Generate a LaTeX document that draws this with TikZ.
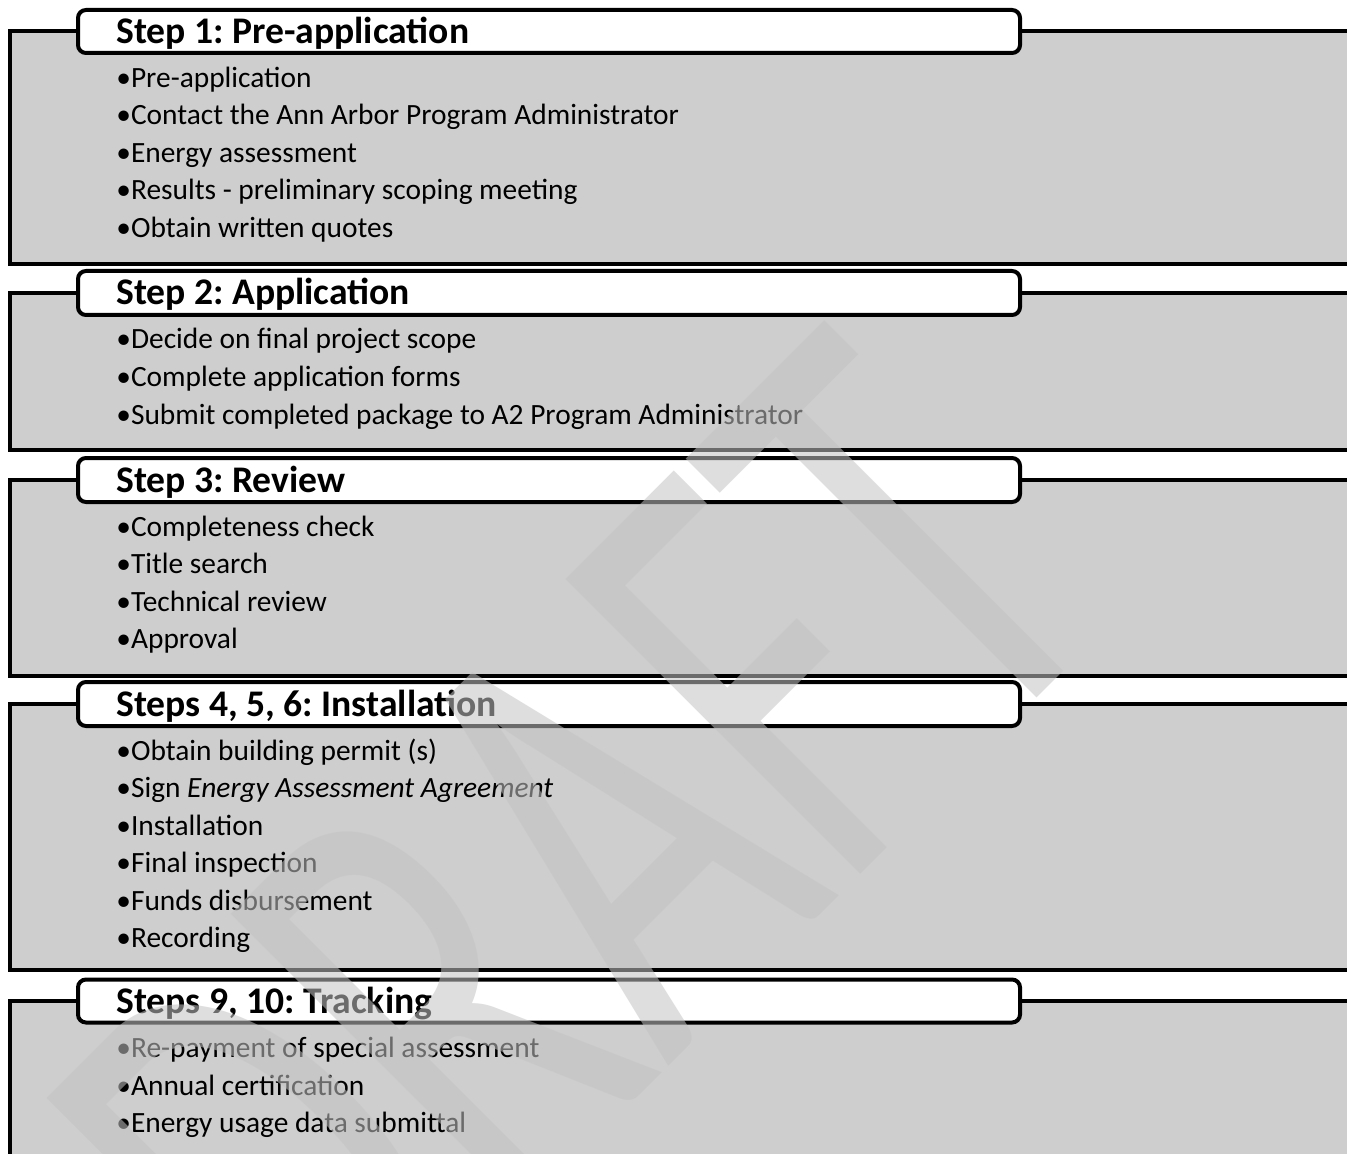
\documentclass[tikz,border=0pt]{standalone}
\usepackage{fontspec}
\setmainfont{Carlito}
\usetikzlibrary{positioning}
\definecolor{panelgray}{RGB}{206,206,206}
\definecolor{markgray}{RGB}{195,195,195}
\tikzset{
    panel/.style={draw=black, line width=2pt, fill=panelgray},
    titlebox/.style={draw=black, line width=2pt, fill=white, rounded corners=4pt},
    title text/.style={font=\bfseries\fontsize{18.8}{22}\selectfont, anchor=base west, inner sep=0pt},
    item text/.style={font=\fontsize{14.7}{17}\selectfont, anchor=base west, inner sep=0pt},
    watermark/.style={font=\fontsize{325}{325}\selectfont, text=markgray, opacity=0.55,
        anchor=base east, inner sep=0pt, rotate=45, xscale=0.65},
}
\frenchspacing

\begin{document}
\begin{tikzpicture}[x=0.5pt,y=-0.5pt]
    \useasboundingbox (0,0) rectangle (1347,1154);
    \clip (0,0) rectangle (1347,1154);

    % step 1
    \begin{scope}[shift={(0,31.5)}]
        \draw[panel] (10,0) rectangle (1370,232.5);
        \draw[titlebox] (78,-21.5) rectangle (1020,21.5);
        \node[title text] (step1) at (116,12) {Step 1: Pre-application};
        \foreach \txt [count=\i] in {Pre-application, Contact the Ann Arbor Program Administrator,
            Energy assessment, Results - preliminary scoping meeting, Obtain written quotes}
            \node[item text] (step1-\i) at (116,18.5+37.5*\i) {•\txt};
    \end{scope}

    % step 2
    \begin{scope}[shift={(0,293)}]
        \draw[panel] (10,0) rectangle (1370,157);
        \draw[titlebox] (78,-22) rectangle (1020,22);
        \node[title text] (step2) at (116,12) {Step 2: Application};
        \foreach \txt [count=\i] in {Decide on final project scope, Complete application forms,
            Submit completed package to A2 Program Administrator}
            \node[item text] (step2-\i) at (116,18.5+37.5*\i) {•\txt};
    \end{scope}

    % step 3
    \begin{scope}[shift={(0,480)}]
        \draw[panel] (10,0) rectangle (1370,196);
        \draw[titlebox] (78,-22) rectangle (1020,22);
        \node[title text] (step3) at (116,12) {Step 3: Review};
        \foreach \txt [count=\i] in {Completeness check, Title search, Technical review, Approval}
            \node[item text] (step3-\i) at (116,18.5+37.5*\i) {•\txt};
    \end{scope}

    % steps 4-6
    \begin{scope}[shift={(0,704)}]
        \draw[panel] (10,0) rectangle (1370,266);
        \draw[titlebox] (78,-22) rectangle (1020,22);
        \node[title text] (step4) at (116,12) {Steps 4, 5, 6: Installation};
        \foreach \txt [count=\i] in {Obtain building permit (s), Sign \textit{Energy Assessment Agreement},
            Installation, Final inspection, Funds disbursement, Recording}
            \node[item text] (step4-\i) at (116,18.5+37.5*\i) {•\txt};
    \end{scope}

    % steps 9, 10
    \begin{scope}[shift={(0,1001)}]
        \draw[panel] (10,0) rectangle (1370,200);
        \draw[titlebox] (78,-21.5) rectangle (1020,21.5);
        \node[title text] (step9) at (116,12) {Steps 9, 10: Tracking};
        \foreach \txt [count=\i] in {Re-payment of special assessment, Annual certification,
            Energy usage data submittal}
            \node[item text] (step9-\i) at (116,19+37.5*\i) {•\txt};
    \end{scope}

    % watermark on top
    \node[watermark] (draft) at (1123,612) {DRAFT};
\end{tikzpicture}
\end{document}
